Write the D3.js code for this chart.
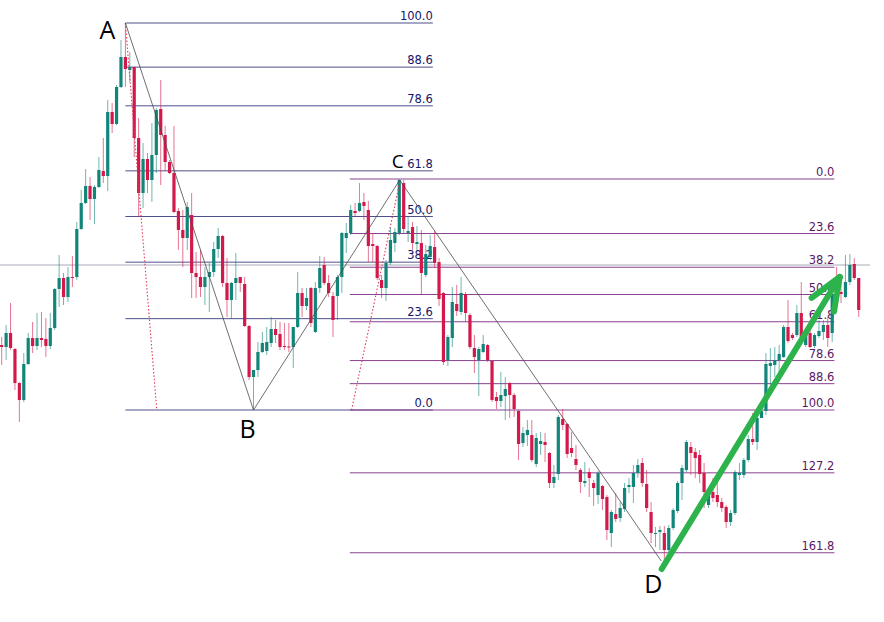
<!DOCTYPE html>
<html><head><meta charset="utf-8">
<script src="https://cdn.jsdelivr.net/npm/d3@7"></script>
<style>body{margin:0;background:#fff;}svg{display:block;}</style>
</head><body>
<svg id="chart" width="884" height="622"></svg>
<script>
// OHLC values (index 0..194)
const openP  = [255,253,267,251,217,200,236,262,254,262,261,254,272,311,322,303,323,323,371,397,414,401,413,429,424,488,476,513,543,530,
 533,462,407,441,420,445,491,465,438,427,389,370,362,385,327,323,313,323,328,351,364,317,300,317,323,316,274,223,230,248,
 249,257,271,266,254,253.5,253,273,307,294,312,268,312,335,317,304,304,323,362,367,389,389,398,390,356,354,320,312,337,357,
 367,417,367,373,356,357,325,343,353,338,307,240,262,296,288,306,285,252,240,248,255,239,203,199,204,217,205,189,157,165,
 165,136,156,158,147,117,126,181,176,152,141,130,117,128,117,105,114,103,67,86,82,91,113,113,127,137,116,88,66,68,
 67,50,72,89,117,130,153,148,145,127,95,108,105,98,93,78,87,125,125,140,161,158,182,189,234,235,240,243,273,265,
 265,287,255,267,254,264,268,275,267,309,308,303,318,336,322];
const highP  = [263,275,297,252,218,247,267,278,287,288,282,287,312,345,327,333,344,378,410,431,423,415,443,462,500,497,515,560,577,548,
 533,482,457,447,477,492,520,474,440,474,392,390,398,407,348,350,333,337,358,372,365,342,318,347,323,323,275,230,258,268,
 273,283,280,278,277,277,273,328,312,312,313,318,344,343,325,308,325,368,377,395,397,417,407,399,367,355,325,340,373,372,
 421,420,383,378,374,370,355,365,369,342,308,265,313,315,323,308,287,265,253,265,256,239,208,228,223,218,207,190,173,180,
 180,167,168,167,148,135,185,191,177,168,155,132,138,132,120,129,115,105,90,107,98,117,122,135,141,142,130,98,73,74,
 74,75,92,119,135,160,158,152,150,137,112,122,120,102,95,90,130,137,142,165,187,185,192,247,252,253,255,275,300,267,
 295,318,268,275,267,280,280,283,308,333,323,345,346,342,322];
const lowP   = [235,240,250,210,178,198,235,247,250,253,243,251,270,293,295,298,313,320,370,396,380,376,412,417,409,467,475,512,513,518,
 443,383,392,407,398,427,415,429,426,387,350,333,350,302,302,303,295,288,323,342,313,283,282,300,308,273,220,190,223,247,
 245,253,257,250,250,248,232,272,283,290,273,267,307,315,303,263,280,307,347,365,383,388,380,338,338,320,302,299,335,348,
 365,367,358,350,350,305,323,340,332,294,235,234,253,284,285,278,251,227,204,247,238,198,191,193,180,182,183,140,153,154,
 138,133,145,138,112,112,120,170,142,143,130,107,113,103,94,96,90,60,53,78,78,88,107,97,122,113,88,57,53,50,
 39,48,70,87,100,128,125,122,117,92,92,98,93,88,72,74,85,120,122,138,155,150,182,185,215,223,228,242,257,260,
 263,262,253,252,252,262,260,253,258,295,297,302,315,320,283];
const closeP = [253,267,252,217,200,236,262,254,262,260,254,272,311,322,303,323,322,371,397,414,401,413,430,424,488,476,513,543,531,533,
 462,407,441,420,445,490,465,438,427,388,370,362,393,327,323,313,323,328,351,364,317,300,317,322,317,274,223,230,248,257,
 258,271,265,253,253,252.5,273,307,294,302,277,312,332,317,307,280,323,367,367,390,387,397,394,354,354,322,312,337,360,368,
 420,371,369,357,358,327,346,354,337,301,238,263,298,289,307,287,253,243,251,256,240,200,199,205,211,205,191,156,167,170,
 140,162,159,155,117,123,183,175,146,147,135,118,119,122,112,127,101,70,88,81,92,112,115,127,135,117,92,67,67,70,
 50,72,90,117,132,158,147,142,126,108,110,102,98,92,78,87,128,127,140,161,158,182,189,236,237,240,246,273,259,262,
 287,263,266,253,265,269,275,262,305,307,306,318,335,322,290];

// Pattern pivots (index, price)
const pivotNames = ["A","B","C","D"];
const pivotIdx   = [28, 57, 90.1, 149.3];
const pivotPrice = [577, 190, 420, 39];

// Fibonacci levels
const retraceLevels = [100.0, 88.6, 78.6, 61.8, 50.0, 38.2, 23.6, 0.0];
const extLevels     = [0.0, 23.6, 38.2, 50.0, 61.8, 78.6, 88.6, 100.0, 127.2, 161.8];
const retraceSpan = [28, 97.6];     // index range of retracement tool
const extSpan     = [78.8, 188.5];  // index range of extension tool
const extHigh = 421, extLow = 190;

// dotted helper lines [idx1, price1, idx2, price2]
const dotted1 = [28, 577, 35.1, 190];
const dotted2 = [79.2, 190, 90.1, 418];
const currentPrice = 335;
const arrowFrom = [149.4, 31];
const arrowTo   = [189.7, 323];

const svg = d3.select("#chart");
const x = d3.scaleLinear().domain([0, 194]).range([1.7, 858.7]);
const y = d3.scaleLinear().domain([0, 600]).range([600, 0]);

const navyLine = "#4f4f8c", navyText = "#15156a";
const purpLine = "#8a4291", purpText = "#5a1865";
const labelFont = "11.5px 'DejaVu Sans', Verdana, sans-serif";

// current price line
svg.append("line").attr("x1", 0).attr("x2", 870)
  .attr("y1", y(currentPrice)).attr("y2", y(currentPrice))
  .attr("stroke", "#c6c6d0").attr("stroke-width", 1.4);

// retracement A-B
const A = pivotPrice[0], B = pivotPrice[1];
const g1 = svg.append("g");
retraceLevels.forEach(l => {
  const p = B + (A - B) * l / 100;
  g1.append("line").attr("x1", x(retraceSpan[0])).attr("x2", x(retraceSpan[1]))
    .attr("y1", y(p)).attr("y2", y(p)).attr("stroke", navyLine).attr("stroke-width", 1);
  g1.append("text").attr("x", x(retraceSpan[1])).attr("y", y(p) - 3)
    .attr("text-anchor", "end").attr("fill", navyText)
    .style("font", labelFont).text(l.toFixed(1));
});
// extension C-B
const g2 = svg.append("g");
extLevels.forEach(l => {
  const p = extHigh - (extHigh - extLow) * l / 100;
  g2.append("line").attr("x1", x(extSpan[0])).attr("x2", x(extSpan[1]))
    .attr("y1", y(p)).attr("y2", y(p)).attr("stroke", purpLine).attr("stroke-width", 1);
  g2.append("text").attr("x", x(extSpan[1])).attr("y", y(p) - 3)
    .attr("text-anchor", "end").attr("fill", purpText)
    .style("font", labelFont).text(l.toFixed(1));
});

// candles
const bull = "#11857a", bear = "#d3194b";
const data = openP.map((o, i) => ({i, o, h: highP[i], l: lowP[i], c: closeP[i]}));
const cg = svg.append("g");
data.forEach(d => {
  const up = d.c >= d.o;
  const col = up ? bull : bear;
  const cx = x(d.i);
  cg.append("line").attr("x1", cx).attr("x2", cx).attr("y1", y(d.h)).attr("y2", y(d.l))
    .attr("stroke", col).attr("stroke-opacity", 0.6).attr("stroke-width", 1);
  const top = y(Math.max(d.o, d.c)), bot = y(Math.min(d.o, d.c));
  cg.append("rect").attr("x", cx - 1.6).attr("width", 3.2)
    .attr("y", top).attr("height", Math.max(1, bot - top)).attr("fill", col);
});

// dotted red lines
[dotted1, dotted2].forEach(dl => {
  svg.append("line").attr("x1", x(dl[0])).attr("y1", y(dl[1]))
    .attr("x2", x(dl[2])).attr("y2", y(dl[3]))
    .attr("stroke", "#e03a55").attr("stroke-width", 1.1).attr("stroke-dasharray", "1.5,2");
});

// ABCD zigzag
const zig = pivotIdx.map((v, k) => [x(v), y(pivotPrice[k])]);
svg.append("path").attr("d", d3.line()(zig)).attr("fill", "none")
  .attr("stroke", "#4a4a4a").attr("stroke-width", 0.8);

// green arrow
const x0 = x(arrowFrom[0]), y0 = y(arrowFrom[1]), x1 = x(arrowTo[0]), y1 = y(arrowTo[1]);
const ang = Math.atan2(y0 - y1, x0 - x1);
const wl = 35, spread = 22 * Math.PI / 180;
const ag = svg.append("g").attr("stroke", "#2db34c").attr("stroke-width", 6)
  .attr("stroke-linecap", "round").attr("fill", "none");
ag.append("line").attr("x1", x0).attr("y1", y0).attr("x2", x1).attr("y2", y1);
[-spread, spread].forEach(s => {
  ag.append("line").attr("x1", x1).attr("y1", y1)
    .attr("x2", x1 + wl * Math.cos(ang + s)).attr("y2", y1 + wl * Math.sin(ang + s));
});

// pivot letters
const letterOff = [[-26, 16, 25], [-14, 28, 25], [-8, -12, 19], [-17, 32, 25]];
pivotNames.forEach((n, k) => {
  svg.append("text").attr("x", zig[k][0] + letterOff[k][0]).attr("y", zig[k][1] + letterOff[k][1])
    .attr("fill", "#000").style("font", letterOff[k][2] + "px 'Open Sans', sans-serif").text(n);
});
</script>
</body></html>
